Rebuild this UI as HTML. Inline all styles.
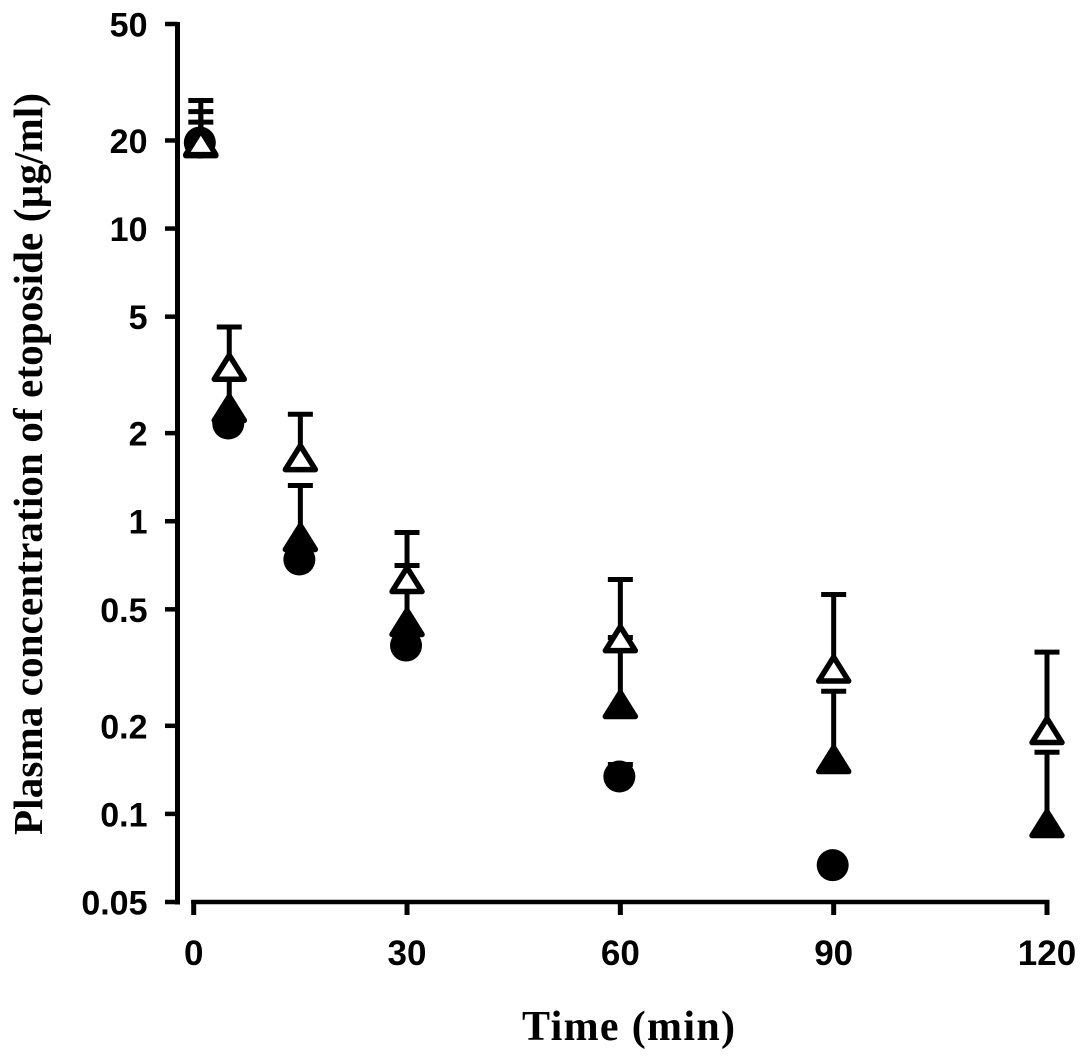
<!DOCTYPE html>
<html lang="en">
<head>
<meta charset="utf-8">
<title>Plasma concentration of etoposide</title>
<style>
html,body{margin:0;padding:0;background:#fff;}
#chart{display:block;width:1087px;height:1061px;}
.tick-label{font-family:"Liberation Sans",Arial,sans-serif;font-weight:bold;font-size:34px;fill:#000;}
.x-label{font-size:35px;}
.axis-title{font-family:"Liberation Serif","Times New Roman",serif;font-weight:bold;fill:#000;}
</style>
</head>
<body>
<svg id="chart" xmlns="http://www.w3.org/2000/svg" width="1087" height="1061" viewBox="0 0 1087 1061">
  <rect x="0" y="0" width="1087" height="1061" fill="#fff"/>
  <g id="axes"></g>
  <g id="marks"></g>
  <text class="axis-title" transform="translate(42,464) rotate(-90)" text-anchor="middle" font-size="41" textLength="742" lengthAdjust="spacing">Plasma concentration of etoposide (µg/ml)</text>
  <text class="axis-title" x="628.5" y="1040" text-anchor="middle" font-size="42" textLength="213" lengthAdjust="spacing">Time (min)</text>
</svg>
<script>
const xTicks = [0, 30, 60, 90, 120];
const yTicks = [50, 20, 10, 5, 2, 1, 0.5, 0.2, 0.1, 0.05];
const yTickLabels = ["50", "20", "10", "5", "2", "1", "0.5", "0.2", "0.1", "0.05"];

const times = [1, 5, 15, 30, 60, 90, 120];

const circleValues = [19.67, 2.157, 0.74, 0.376, 0.1342, 0.0668];
const circleUpper = [23.1, 2.31, 0.80, 0.41, 0.1475, 0.0699];

const filledValues = [19.5, 2.43, 0.88, 0.451, 0.2365, 0.1534, 0.0927];
const filledUpper = [25.1, 3.15, 1.324, 0.706, 0.4006, 0.2625, 0.1625];

const openValues = [19.67, 3.36, 1.65, 0.632, 0.397, 0.3126, 0.1927];
const openUpper = [27.4, 4.61, 2.32, 0.915, 0.632, 0.562, 0.357];

const NS = "http://www.w3.org/2000/svg";
const axesGroup = document.getElementById("axes");
const marksGroup = document.getElementById("marks");

function xScale(t) {
  return 193.7 + (t - 0) * (1047 - 193.7) / 120;
}
function yScale(v) {
  return 902 - (Math.log10(v) - Math.log10(0.05)) * (902 - 24) / 3;
}
function svgEl(tag, parent) {
  const el = document.createElementNS(NS, tag);
  parent.appendChild(el);
  return el;
}
function drawLine(x1, y1, x2, y2, width, parent) {
  const el = svgEl("line", parent);
  el.setAttribute("x1", x1);
  el.setAttribute("y1", y1);
  el.setAttribute("x2", x2);
  el.setAttribute("y2", y2);
  el.setAttribute("stroke", "#000");
  el.setAttribute("stroke-width", width);
  return el;
}

/* y axis */
const yAxisLine = drawLine(177.5, yScale(50) - 2, 177.5, yScale(0.05) + 2.5, 5, axesGroup);



yTicks.forEach(function (v, i) {
  const tick = drawLine(165, yScale(v), 177.5, yScale(v), 4.5, axesGroup);
  
  
  const label = svgEl("text", axesGroup);
  label.setAttribute("class", "tick-label");
  label.setAttribute("x", 147.5);
  label.setAttribute("y", yScale(v) + 12.5);
  label.setAttribute("text-anchor", "end");
  label.textContent = yTickLabels[i];
  
  
});

/* x axis */
const xAxisLine = drawLine(xScale(0) - 2.5, 902, xScale(120) + 2.5, 902, 4.5, axesGroup);



xTicks.forEach(function (t) {
  const tick = drawLine(xScale(t), 900, xScale(t), 915, 5, axesGroup);
  
  
  const label = svgEl("text", axesGroup);
  label.setAttribute("class", "tick-label x-label");
  label.setAttribute("x", xScale(t));
  label.setAttribute("y", 965);
  label.setAttribute("text-anchor", "middle");
  label.textContent = String(t);
  
  
});

/* error bars: upper whisker from the point to the cap */
function drawError(t, v, up, seriesName) {
  const cx = xScale(t);
  const stem = drawLine(cx, yScale(v), cx, yScale(up), 5, marksGroup);
  
  
  const cap = drawLine(cx - 12.5, yScale(up), cx + 12.5, yScale(up), 5, marksGroup);
  
  
}
function trianglePoints(cx, cy) {
  return (cx) + "," + (cy - 12) + " " + (cx - 15) + "," + (cy + 12) + " " + (cx + 15) + "," + (cy + 12);
}

/* series drawn back to front: circles, filled triangles, open triangles */
circleValues.forEach(function (v, i) {
  drawError(times[i], v, circleUpper[i], "circle-series");
});
circleValues.forEach(function (v, i) {
  const c = svgEl("circle", marksGroup);
  c.setAttribute("cx", xScale(times[i]) - 1);
  c.setAttribute("cy", yScale(v));
  c.setAttribute("r", 16);
  c.setAttribute("fill", "#000");
  
  
});

filledValues.forEach(function (v, i) {
  drawError(times[i], v, filledUpper[i], "filled-triangle-series");
});
filledValues.forEach(function (v, i) {
  const p = svgEl("polygon", marksGroup);
  p.setAttribute("points", trianglePoints(xScale(times[i]), yScale(v)));
  p.setAttribute("fill", "#000");
  p.setAttribute("stroke", "#000");
  p.setAttribute("stroke-width", 5.5);
  p.setAttribute("stroke-linejoin", "round");
  
  
});

openValues.forEach(function (v, i) {
  drawError(times[i], v, openUpper[i], "open-triangle-series");
});
openValues.forEach(function (v, i) {
  const p = svgEl("polygon", marksGroup);
  p.setAttribute("points", trianglePoints(xScale(times[i]), yScale(v)));
  p.setAttribute("fill", "#fff");
  p.setAttribute("stroke", "#000");
  p.setAttribute("stroke-width", 5.5);
  p.setAttribute("stroke-linejoin", "round");
  
  
});
</script>
</body>
</html>
